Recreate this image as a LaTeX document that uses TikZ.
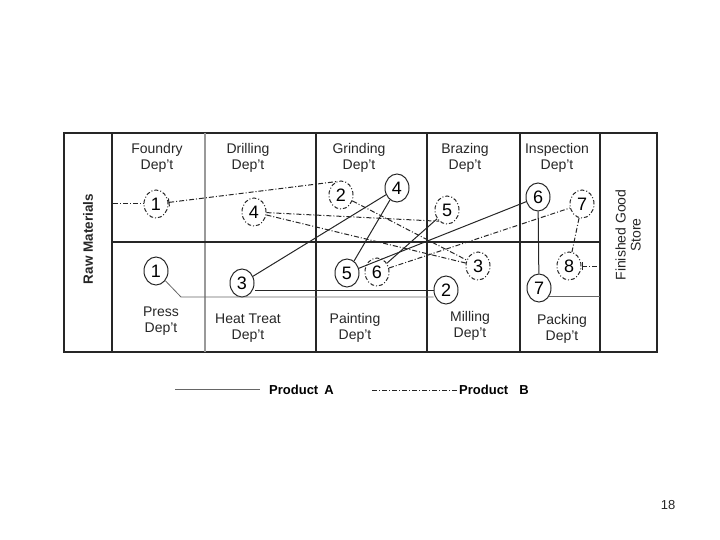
\documentclass[tikz,border=0pt]{standalone}
\usepackage{fontspec}
\setmainfont{Liberation Sans}
\usetikzlibrary{positioning, arrows.meta, shapes.geometric}
\tikzset{
  deptlabel/.style={
    align=center, text=black!85,
    font=\fontsize{14}{16}\selectfont, inner sep=1pt
  },
  sidelabel/.style={
    align=center, text=black!85, rotate=90,
    font=\fontsize{14}{15}\selectfont, inner sep=1pt
  },
  legendtext/.style={
    font=\bfseries\fontsize{13}{15}\selectfont, inner sep=0pt
  },
  % Operation circles
  opA/.style={
    draw=black!85, ellipse, line width=1pt,
    minimum width=24pt, minimum height=28pt, inner sep=0pt,
    font=\fontsize{18}{18}\selectfont
  },
  opB/.style={
    opA, dash pattern=on 4pt off 2pt on 1pt off 2pt
  },
  % Department grid
  deptline/.style={draw=black!85, line width=1.1pt},
  % Flow lines
  flowA/.style={draw=black!85, line width=1pt},
  flowAthin/.style={draw=black!60, line width=0.8pt},
  flowB/.style={
    draw=black!85, line width=1pt,
    dash pattern=on 5pt off 2pt on 1pt off 2pt
  },
}

\begin{document}
\begin{tikzpicture}[x=1pt, y=-1pt]
  \useasboundingbox (0,0) rectangle (720,540);

  %% ── Department grid ──
  \draw[deptline] (64,133) rectangle (657,352);
  \draw[deptline] (112,133) -- (112,352);
  \draw[deptline, draw=black!40] (205,133) -- (205,352);
  \foreach \x in {316, 427, 520, 600}
    \draw[deptline] (\x,133) -- (\x,352);
  \draw[deptline, line width=1.5pt] (112,242) -- (600,242);

  %% ── Department labels ──
  \node[deptlabel] (foundry)    at (157,158) {Foundry\\Dep't};
  \node[deptlabel] (drilling)   at (248,158) {Drilling\\Dep't};
  \node[deptlabel] (grinding)   at (359,158) {Grinding\\Dep't};
  \node[deptlabel] (brazing)    at (465,158) {Brazing\\Dep't};
  \node[deptlabel] (inspection) at (557,158) {Inspection\\Dep't};
  \node[deptlabel] (press)      at (161,321) {Press\\Dep't};
  \node[deptlabel] (heattreat)  at (248,328) {Heat Treat\\Dep't};
  \node[deptlabel] (painting)   at (355,328) {Painting\\Dep't};
  \node[deptlabel] (milling)    at (470,326) {Milling\\Dep't};
  \node[deptlabel] (packing)    at (562,329) {Packing\\Dep't};
  \node[sidelabel, font=\bfseries\fontsize{13.5}{15}\selectfont] (raw) at (88,239) {Raw Materials};
  \node[sidelabel] (store) at (628,235) {Finished Good\\Store};

  %% ── Operations: product B ──
  \node[opB] (b1) at (156,204) {1};
  \node[opB] (b2) at (341,195) {2};
  \node[opB] (b3) at (478,266) {3};
  \node[opB] (b4) at (254,212) {4};
  \node[opB] (b5) at (447,210) {5};
  \node[opB] (b6) at (377,272) {6};
  \node[opB] (b7) at (582,204) {7};
  \node[opB] (b8) at (569,266) {8};

  %% ── Operations: product A ──
  \node[opA] (a1) at (156,271) {1};
  \node[opA] (a2) at (446,290) {2};
  \node[opA] (a3) at (242,283) {3};
  \node[opA] (a4) at (397,188) {4};
  \node[opA] (a5) at (347,273) {5};
  \node[opA] (a6) at (538,197) {6};
  \node[opA] (a7) at (539,288) {7};

  %% ── Flow of product B ──
  \coordinate (rawB) at (113,204);
  \coordinate (storeB) at (600,266);
  \draw[flowB] (rawB) -- (b1);
  \draw[flowB, {Bar[width=8pt]}-] (b1) -- (b2.110);
  \draw[flowB] (b2) -- (b3);
  \draw[flowB] (b3) -- (b4);
  \draw[flowB] (b4) -- (b5.235);
  \draw[flowA] (b5) -- (b6);
  \draw[flowB] (b6) -- (b7);
  \draw[flowB] (b7) -- (b8);
  \draw[flowB, {Bar[width=8pt]}-] (b8) -- (storeB);

  %% ── Flow of product A ──
  \coordinate (bendA) at (181,297);
  \coordinate (storeA) at (600,297);
  \draw[flowAthin] (a1) -- (bendA) -- (bendA -| a2.west);
  \draw[flowA] (a2) -- (a2 -| a3.east);
  \draw[flowA] (a3) -- (a4);
  \draw[flowA] (a4) -- (a5);
  \draw[flowA] (a5) -- (a6);
  \draw[flowA] (a6) -- (a7);
  \draw[flowAthin] (a7.-40) -- (a7.-40 -| storeA);

  %% ── Legend ──
  \coordinate (legA1) at (175,389);
  \coordinate (legA2) at (260,389);
  \coordinate (legB1) at (372,390);
  \coordinate (legB2) at (458,390);
  \draw[flowAthin] (legA1) -- (legA2);
  \node[legendtext, anchor=west] (prodA) at (269,390) {Product\hspace{6pt}A};
  \draw[flowB, line width=0.8pt] (legB1) -- (legB2);
  \node[legendtext, anchor=west] (prodB) at (459,390) {Product\hspace{11pt}B};

  \node[font=\fontsize{13}{15}\selectfont, text=black!85] (page) at (668,505) {18};
\end{tikzpicture}
\end{document}
